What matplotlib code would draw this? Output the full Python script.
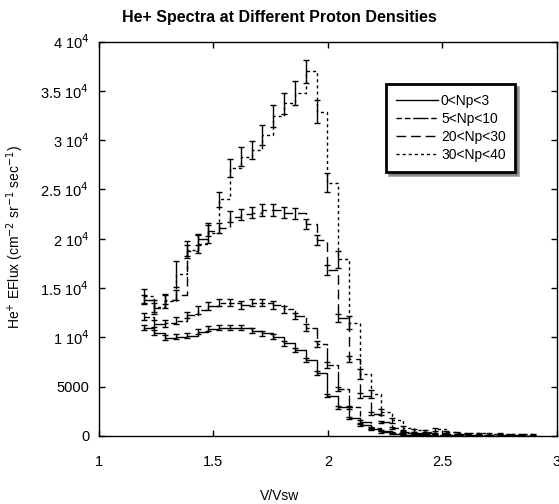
import numpy as np
import matplotlib.pyplot as plt

plt.rcParams['font.family'] = ['Liberation Sans', 'DejaVu Sans']

# V/Vsw bins (left edge of each step)
v_ratio = [1.195, 1.242, 1.289, 1.336, 1.384, 1.431, 1.478, 1.525, 1.573, 1.620,
           1.667, 1.714, 1.761, 1.809, 1.856, 1.903, 1.950, 1.997, 2.045, 2.092,
           2.139, 2.186, 2.233, 2.281, 2.328, 2.375, 2.422, 2.469, 2.517, 2.564,
           2.611, 2.658, 2.705, 2.753, 2.800, 2.847, 2.894]

# He+ EFlux for each proton density range
flux_0_3 = [10980, 10475, 9970, 10070, 10170, 10575, 10880, 10980, 10980, 10980,
            10680, 10415, 10070, 9400, 8750, 7700, 6350, 4100, 2900, 1800,
            1115, 720, 400, 220, 130, 90, 60, 40, 30, 20,
            20, 10, 10, 10, 0, 0, 0]
flux_5_10 = [12100, 11400, 11430, 11700, 12270, 12780, 13180, 13520, 13520, 13280,
             13520, 13520, 13280, 12840, 12170, 10980, 9330, 7200, 4735, 2900,
             1450, 800, 540, 350, 250, 200, 150, 100, 80, 60,
             50, 40, 30, 20, 20, 10, 10]
flux_20_30 = [13800, 13000, 13800, 14300, 18800, 19950, 20800, 21100, 22240, 22510,
              22640, 22920, 22920, 22640, 22580, 21500, 19870, 16830, 12000, 7800,
              4100, 2250, 1400, 780, 450, 350, 300, 250, 200, 150,
              120, 100, 80, 60, 50, 40, 30]
flux_30_40 = [14200, 13100, 13700, 16400, 18900, 19500, 20600, 24000, 27140, 28320,
              29000, 30520, 32480, 33730, 34810, 37010, 32880, 25700, 17900, 11500,
              6300, 4300, 2400, 1600, 800, 600, 450, 700, 400, 300,
              250, 250, 200, 220, 180, 150, 150]

err_0_3 = [250, 250, 230, 230, 230, 240, 240, 250, 250, 250,
           250, 240, 240, 230, 220, 210, 200, 170, 150, 120,
           100, 80, 60, 40, 30, 20, 20, 15, 10, 10,
           10, 5, 5, 5, 0, 0, 0]
err_5_10 = [350, 350, 340, 350, 350, 360, 370, 370, 370, 370,
            370, 370, 370, 360, 350, 330, 300, 270, 220, 170,
            120, 90, 70, 60, 50, 40, 40, 30, 30, 20,
            20, 20, 15, 10, 10, 5, 5]
err_20_30 = [450, 450, 450, 460, 520, 540, 550, 550, 560, 560,
             560, 570, 570, 560, 560, 550, 520, 480, 400, 320,
             240, 170, 130, 100, 80, 70, 60, 50, 45, 40,
             35, 30, 25, 20, 20, 15, 15]
err_30_40 = [700, 700, 700, 1300, 900, 900, 1000, 750, 900, 950,
             950, 1000, 1100, 1100, 1200, 1170, 1180, 1000, 900, 700,
             500, 400, 300, 250, 180, 150, 130, 150, 100, 90,
             80, 80, 70, 70, 60, 50, 50]

labels = ['0<Np<3', '5<Np<10', '20<Np<30', '30<Np<40']
styles = ['-', (0, (4, 2, 4, 2, 11, 2)), (0, (7, 3.5)), (0, (2.2, 2.2))]
fluxes = [flux_0_3, flux_5_10, flux_20_30, flux_30_40]
errors = [err_0_3, err_5_10, err_20_30, err_30_40]

fig = plt.figure(figsize=(5.59, 5.04), dpi=100)
ax = fig.add_axes([0.177, 0.135, 0.8194, 0.7825])

x = np.array(v_ratio)
for flux, err, lab, ls in zip(fluxes, errors, labels, styles):
    ax.step(x, flux, where='post', color='black', linestyle=ls, linewidth=1.0, label=lab)
    ax.errorbar(x, flux, yerr=err, fmt='none', ecolor='black', elinewidth=1.0,
                capsize=2.2, capthick=1.0)

ax.set_xlim(1, 3)
ax.set_ylim(0, 40000)
ax.set_xticks([1, 1.5, 2, 2.5, 3])
ax.set_xticklabels(['1', '1.5', '2', '2.5', '3'])
yt = np.arange(0, 40001, 5000)
ax.set_yticks(yt)
ax.set_yticklabels(['0', '5000', r'1 10$^4$', r'1.5 10$^4$', r'2 10$^4$',
                    r'2.5 10$^4$', r'3 10$^4$', r'3.5 10$^4$', r'4 10$^4$'])
ax.tick_params(direction='in', top=True, right=True, length=4, width=1,
               labelsize=10.5, pad=7)
ax.tick_params(axis='x', pad=14)
for s in ax.spines.values():
    s.set_linewidth(1.0)

fig.text(0.5, 0.965, 'He+ Spectra at Different Proton Densities', fontsize=11.5,
         fontweight='bold', ha='center', va='center')
fig.text(0.5, 0.002, 'V/Vsw', fontsize=10, ha='center', va='bottom')
fig.text(0.027, 0.53, r'He$^{+}$ EFlux (cm$^{-2}$ sr$^{-1}$ sec$^{-1}$)', fontsize=10,
         rotation=90, ha='center', va='center')

leg = ax.legend(loc='upper left', bbox_to_anchor=(0.627, 0.893), fontsize=10,
                handlelength=3.0, handletextpad=0.25, labelspacing=0.3,
                borderpad=0.7, borderaxespad=0, fancybox=False, shadow=True,
                framealpha=1)
leg.get_frame().set_edgecolor('black')
leg.get_frame().set_linewidth(2.0)

fig.savefig('out.png', dpi=100)
